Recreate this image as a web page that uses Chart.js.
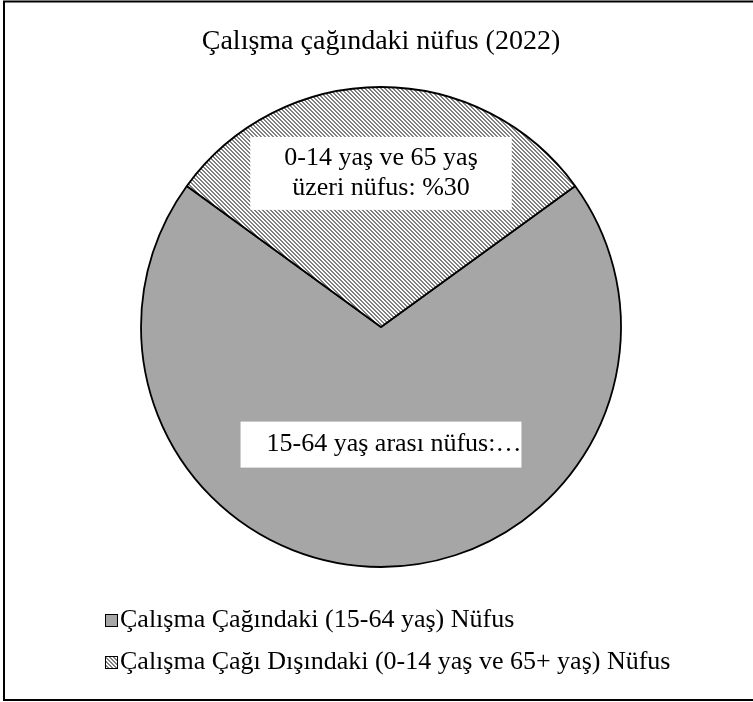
<!DOCTYPE html>
<html><head><meta charset="utf-8">
<script src="https://cdn.jsdelivr.net/npm/chart.js@4.4.0/dist/chart.umd.min.js"></script>
<style>html,body{margin:0;padding:0;background:#fff}#wrap{width:753px;height:702px;position:relative}</style>
</head><body><div id="wrap"><canvas id="c" width="753" height="702"></canvas></div>
<script>
// ---- data ----
const chartTitle = 'Çalışma çağındaki nüfus (2022)';
const categories = ['Çalışma Çağındaki (15-64 yaş) Nüfus', 'Çalışma Çağı Dışındaki (0-14 yaş ve 65+ yaş) Nüfus'];
const shares = [70, 30];
const sliceLabels = [['15-64 yaş arası nüfus:…'], ['0-14 yaş ve 65 yaş', 'üzeri nüfus: %30']];

// ---- styles ----
const FONT = "'Liberation Serif', 'Times New Roman', serif";
function makeHatch() {
  const n = 4;
  const t = document.createElement('canvas');
  t.width = n; t.height = n;
  const g = t.getContext('2d');
  g.fillStyle = '#ffffff'; g.fillRect(0, 0, n, n);
  g.fillStyle = '#808080';
  for (let y = 0; y < n; y++) for (let x = 0; x < n; x++) {
    if ((((x - y) % n) + n) % n < 2) g.fillRect(x, y, 1, 1);
  }
  return g.createPattern(t, 'repeat');
}
const ctx = document.getElementById('c').getContext('2d');
const hatch = makeHatch();
const sliceColors = ['#a6a6a6', hatch];
const labelStyle = [
  {dist: 0.49, padL: 26, padR: 0, padY: 8},
  {dist: 0.64, padL: 34, padR: 34, padY: 6.5}
];
const LEGEND_BOX = 13;

const framePlugin = {
  id: 'frame',
  beforeDraw(chart) {
    const c = chart.ctx;
    c.save();
    c.fillStyle = '#fff';
    c.fillRect(0, 0, chart.width, chart.height);
    c.strokeStyle = '#000';
    c.lineWidth = 2;
    c.strokeRect(4, 1.5, chart.width + 10, chart.height - 3.5);
    c.restore();
  }
};

const sliceLabelPlugin = {
  id: 'sliceLabels',
  afterDatasetsDraw(chart) {
    const c = chart.ctx;
    const meta = chart.getDatasetMeta(0);
    c.save();
    c.font = '26px ' + FONT;
    c.textBaseline = 'middle';
    const lh = 30;
    meta.data.forEach((arc, i) => {
      const p = arc.getProps(['x', 'y', 'startAngle', 'endAngle', 'outerRadius'], true);
      const mid = (p.startAngle + p.endAngle) / 2;
      const st = labelStyle[i];
      const ax = p.x + Math.cos(mid) * p.outerRadius * st.dist;
      const ay = p.y + Math.sin(mid) * p.outerRadius * st.dist;
      const lines = sliceLabels[i];
      const tw = Math.max(...lines.map(l => c.measureText(l).width));
      const bw = tw + st.padL + st.padR;
      const bh = lines.length * lh + 2 * st.padY;
      const bx = ax - bw / 2, by = ay - bh / 2;
      c.fillStyle = '#fff';
      c.fillRect(bx, by, bw, bh);
      c.fillStyle = '#000';
      c.textAlign = 'center';
      const tcx = bx + st.padL + tw / 2;
      lines.forEach((l, k) => c.fillText(l, tcx, by + st.padY + lh * k + lh / 2));
    });
    c.restore();
  }
};

// legend squares drawn tight against the text (Excel style)
const legendBoxPlugin = {
  id: 'legendBoxes',
  afterDraw(chart) {
    const lg = chart.legend;
    if (!lg || !lg.legendHitBoxes) return;
    const c = chart.ctx;
    c.save();
    lg.legendHitBoxes.forEach((hb, i) => {
      const cy = hb.top + hb.height / 2;
      const x = hb.left - 2;
      const y = Math.round(cy - LEGEND_BOX / 2);
      c.fillStyle = sliceColors[i];
      c.fillRect(x, y, LEGEND_BOX, LEGEND_BOX);
      c.strokeStyle = '#000';
      c.lineWidth = 1;
      c.strokeRect(x + 0.5, y + 0.5, LEGEND_BOX - 1, LEGEND_BOX - 1);
    });
    c.restore();
  }
};

new Chart(ctx, {
  type: 'pie',
  data: {
    labels: categories,
    datasets: [{
      data: shares,
      backgroundColor: sliceColors,
      borderColor: '#000',
      borderWidth: 1.8,
      radius: 240
    }]
  },
  options: {
    responsive: false,
    animation: false,
    devicePixelRatio: 1,
    rotation: 54,
    layout: {padding: {top: 28, left: 91, right: 82, bottom: 17}},
    plugins: {
      title: {
        display: true,
        text: chartTitle,
        color: '#000',
        font: {family: FONT, size: 28, weight: 'normal', lineHeight: 1},
        padding: {top: 0, bottom: 7}
      },
      legend: {
        display: true,
        position: 'bottom',
        align: 'start',
        labels: {
          color: '#000',
          font: {family: FONT, size: 26},
          boxWidth: 0,
          boxHeight: 13,
          padding: 16,
          generateLabels(chart) {
            const items = Chart.overrides.pie.plugins.legend.labels.generateLabels(chart);
            items.forEach(it => { it.lineWidth = 0; it.fillStyle = 'rgba(0,0,0,0)'; it.strokeStyle = 'rgba(0,0,0,0)'; });
            return items;
          }
        }
      },
      tooltip: {enabled: false}
    }
  },
  plugins: [framePlugin, sliceLabelPlugin, legendBoxPlugin]
});
</script>
</body></html>
